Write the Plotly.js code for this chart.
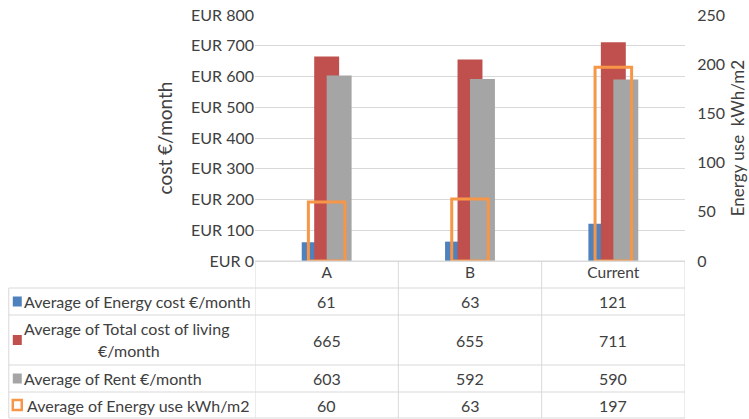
<!DOCTYPE html>
<html><head><meta charset="utf-8">
<script src="https://cdn.plot.ly/plotly-3.0.1.min.js"></script>
<style>body{margin:0;background:#fff}</style>
</head><body><div id="chart" style="width:749px;height:419px"></div>
<script>
// ---- data ----
const categories = ['A', 'B', 'Current'];
const energyCost = [61, 63, 121];
const totalCost = [665, 655, 711];
const rent = [603, 592, 590];
const energyUse = [60, 63, 197];
const seriesNames = ['Average of Energy cost €/month', 'Average of Total cost of living €/month', 'Average of Rent €/month', 'Average of Energy use kWh/m2'];
const seriesLabelLines = [['Average of Energy cost €/month'], ['Average of Total cost of living', '€/month'], ['Average of Rent €/month'], ['Average of Energy use kWh/m2']];
const costTicks = [0, 100, 200, 300, 400, 500, 600, 700, 800];
const useTicks = [0, 50, 100, 150, 200, 250];

// ---- styles / geometry ----
const W = 749, H = 419, L = 254.5, R = 685, T = 15, B = 261;
const colors = ['#4F81BD', '#C0504D', '#A5A5A5', '#F79646'];
const FONT = 'Lato, "Liberation Sans", sans-serif';
const txt = '#404040', gridc = '#D9D9D9';
const px = x => (x - L) / (R - L);
const py = y => (B - y) / (B - T);

const bw = 0.174, step = 0.087;
const traces = [
  {type: 'bar', name: seriesNames[0], x: categories, y: energyCost, width: bw, offset: -bw / 2 - step, marker: {color: colors[0]}, yaxis: 'y'},
  {type: 'bar', name: seriesNames[1], x: categories, y: totalCost, width: bw, offset: -bw / 2, marker: {color: colors[1]}, yaxis: 'y'},
  {type: 'bar', name: seriesNames[2], x: categories, y: rent, width: bw, offset: -bw / 2 + step, marker: {color: colors[2]}, yaxis: 'y'},
  {type: 'bar', name: seriesNames[3], x: categories, y: energyUse, width: 0.255, offset: -0.255 / 2, marker: {color: 'rgba(0,0,0,0)', line: {color: colors[3], width: 3}}, yaxis: 'y2'}
];

// table geometry
const hLines = [288, 315, 365, 392, 418];
const rowCenters = [301.5, 340, 378.5, 405];
const shapes = [];
const line = {color: gridc, width: 1};
shapes.push({type: 'line', xref: 'paper', yref: 'paper', x0: 0, x1: 1, y0: py(261), y1: py(261), line});
hLines.forEach(y => shapes.push({type: 'line', xref: 'paper', yref: 'paper', x0: px(8), x1: 1, y0: py(y), y1: py(y), line}));
[-0.5, 0.5, 1.5, 2.5].forEach(x => shapes.push({type: 'line', xref: 'x', yref: 'paper', x0: x, x1: x, y0: py(261), y1: py(418), line}));
shapes.push({type: 'line', xref: 'paper', yref: 'paper', x0: px(8), x1: px(8), y0: py(288), y1: py(418), line});
// legend keys
rowCenters.forEach((c, i) => {
  if (i < 3) {
    shapes.push({type: 'rect', xref: 'paper', yref: 'paper', x0: px(12), x1: px(21), y0: py(c - 5), y1: py(c + 5), fillcolor: colors[i], line: {width: 0}});
  } else {
    shapes.push({type: 'rect', xref: 'paper', yref: 'paper', x0: px(12), x1: px(21), y0: py(c - 5), y1: py(c + 5), fillcolor: 'rgba(0,0,0,0)', line: {color: colors[3], width: 2.5}});
  }
});

const annotations = [];
const tableValues = [energyCost, totalCost, rent, energyUse];
const TS = 16;
tableValues.forEach((vals, r) => {
  vals.forEach((v, i) => annotations.push({xref: 'x', yref: 'paper', x: categories[i], y: py(rowCenters[r]), text: String(v), showarrow: false, xanchor: 'center', yanchor: 'middle', font: {family: FONT, size: TS, color: txt}}));
  const lines = seriesLabelLines[r];
  if (lines.length === 1) {
    annotations.push({xref: 'paper', yref: 'paper', x: px(r === 3 ? 24 : 21), y: py(rowCenters[r]), text: lines[0], showarrow: false, xanchor: 'left', yanchor: 'middle', font: {family: FONT, size: TS, color: txt}});
  } else {
    annotations.push({xref: 'paper', yref: 'paper', x: px(21), y: py(rowCenters[r] - 12), text: lines[0], showarrow: false, xanchor: 'left', yanchor: 'middle', font: {family: FONT, size: TS, color: txt}});
    annotations.push({xref: 'paper', yref: 'paper', x: px(128), y: py(rowCenters[r] + 10), text: lines[1], showarrow: false, xanchor: 'center', yanchor: 'middle', font: {family: FONT, size: TS, color: txt}});
  }
});

const layout = {
  width: W, height: H,
  margin: {l: L, r: W - R, t: T, b: H - B, pad: 0},
  paper_bgcolor: '#fff', plot_bgcolor: '#fff',
  barmode: 'overlay',
  showlegend: false,
  font: {family: FONT, color: txt},
  xaxis: {type: 'category', range: [-0.5, 2.5], showgrid: false, zeroline: false, showline: false, ticks: '', tickfont: {family: FONT, size: 15.5, color: txt}, fixedrange: true},
  yaxis: {range: [0, 800], tickvals: costTicks, ticktext: costTicks.map(v => 'EUR ' + v), showgrid: true, gridcolor: gridc, gridwidth: 1, zeroline: true, zerolinecolor: gridc, showline: false, ticks: '', tickfont: {family: FONT, size: 16, color: txt},
    title: {text: 'cost €/month', font: {family: FONT, size: 19, color: txt}, standoff: 13}},
  yaxis2: {range: [0, 250], tickvals: useTicks, overlaying: 'y', side: 'right', showgrid: false, zeroline: false, showline: false, ticks: 'outside', ticklen: 8, tickcolor: 'rgba(0,0,0,0)', tickfont: {family: FONT, size: 16, color: txt},
    title: {text: 'Energy use  kWh/m2', font: {family: FONT, size: 17, color: txt}, standoff: 8}},
  shapes, annotations
};

Plotly.newPlot('chart', traces, layout, {displayModeBar: false, staticPlot: true});
</script></body></html>
